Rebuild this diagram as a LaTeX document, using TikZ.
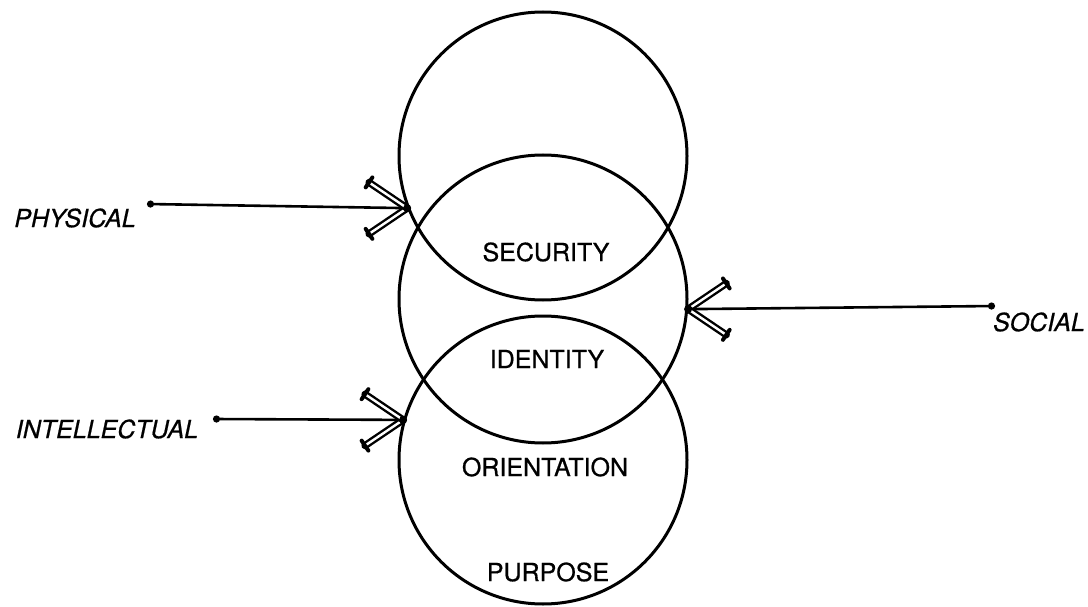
\documentclass[tikz,border=0pt]{standalone}
\usepackage{fontspec}
\setmainfont{TeX Gyre Heros}
\newfontfamily\inkfont[FakeBold=0.7]{TeX Gyre Heros}
\usetikzlibrary{arrows.meta}
\begin{document}
\begin{tikzpicture}[x=1pt,y=-1pt,
  ring/.style={circle,draw,line width=3pt,minimum size=288pt,inner sep=0pt},
  word/.style={inner sep=0pt,font=\inkfont\fontsize{25}{30}\selectfont},
  source/.style={inner sep=0pt,font=\inkfont\fontsize{25}{30}\selectfont\itshape},
  feed/.style={line width=2.6pt,{Circle[length=7pt]}-},
  barbline/.style={line width=2.4pt,double,double distance=2.4pt,line cap=round},
  barbcap/.style={line width=4pt,line cap=round},
  barbs/.pic={
    \foreach \s in {1,-1}{
      \begin{scope}[rotate=\s*34]
        \draw[barbline] (0,0) -- (-46,0);
        \draw[barbcap] (-46,-6) -- (-46,6);
      \end{scope}
    }
    \fill (0,0) circle (4);
  }]
\useasboundingbox (0,0) rectangle (1088,607);

% the three overlapping rings
\node[ring] (top) at (543,156) {};
\node[ring] (mid) at (543,299) {};
\node[ring] (bot) at (543,460) {};

% inner labels
\node[word] (sec) at (546,252) {SECURITY};
\node[word] (ide) at (547,359) {IDENTITY};
\node[word] (ori) at (545,467) {ORIENTATION};
\node[word] (pur) at (548,572) {PURPOSE};

% outer sources
\node[source] (phys) at (75,218) {PHYSICAL};
\node[source] (intel) at (107,429) {INTELLECTUAL};
\node[source] (soc) at (1039,322) {SOCIAL};

% connector ends
\coordinate (physS) at (147,204);
\coordinate (intelS) at (213,419);
\coordinate (socS) at (995,306);
\coordinate (tipP) at (top.201);
\coordinate (tipI) at (bot.164);
\coordinate (tipS) at (mid.356);

% incoming arrows
\draw[feed] (physS) -- (tipP);
\draw[feed] (intelS) -- (tipI);
\draw[feed] (socS) -- (tipS);
\pic at (tipP) {barbs};
\pic at (tipI) {barbs};
\pic[rotate=180] at (tipS) {barbs};
\end{tikzpicture}
\end{document}
